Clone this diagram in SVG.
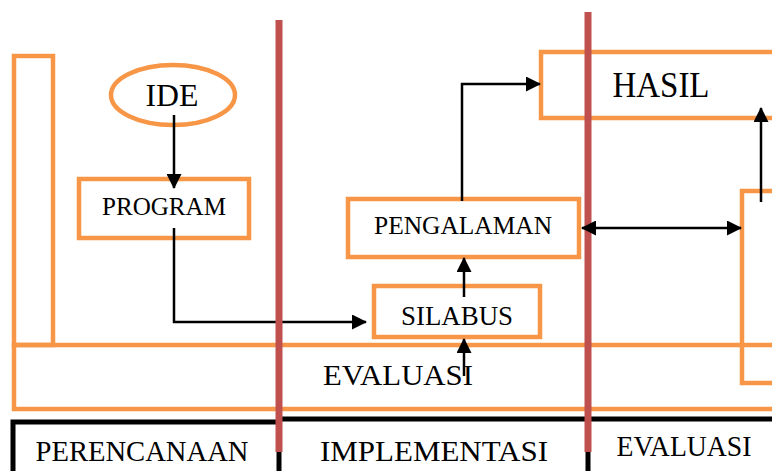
<svg xmlns="http://www.w3.org/2000/svg" width="772" height="471" viewBox="0 0 772 471">
<defs>
<style>
.o{fill:none;stroke:#F79646;stroke-width:4.5}
.r{stroke:#C0504D;stroke-width:7}
.c{fill:none;stroke:#000;stroke-width:2.5}
.t{font-family:"Liberation Serif","Times New Roman",serif;fill:#000;text-anchor:middle}
</style>
<marker id="ah" markerUnits="userSpaceOnUse" markerWidth="15" markerHeight="15" refX="14" refY="7.5" orient="auto-start-reverse" viewBox="0 0 15 15">
<path d="M0,0 L15,7.5 L0,15 Z" fill="#000"/>
</marker>
</defs>
<rect width="772" height="471" fill="#fff"/>
<g id="side-left"><rect class="o" x="14" y="56" width="39" height="289"/></g>
<g id="evaluasi-band"><rect class="o" x="14" y="345" width="780" height="64"/>
<text class="t" x="398" y="385" font-size="30" textLength="150" lengthAdjust="spacingAndGlyphs">EVALUASI</text></g>
<g id="side-right"><rect class="o" x="742" y="191" width="60" height="192"/></g>
<g id="ide"><ellipse class="o" cx="173" cy="95" rx="62" ry="30"/>
<text class="t" x="172" y="106" font-size="32" textLength="53" lengthAdjust="spacingAndGlyphs">IDE</text></g>
<g id="program"><rect class="o" x="79" y="179" width="170" height="59"/>
<text class="t" x="164" y="215" font-size="25" textLength="124" lengthAdjust="spacingAndGlyphs">PROGRAM</text></g>
<g id="pengalaman"><rect class="o" x="348" y="199" width="231" height="58"/>
<text class="t" x="463" y="234" font-size="25" textLength="178" lengthAdjust="spacingAndGlyphs">PENGALAMAN</text></g>
<g id="silabus"><rect class="o" x="374" y="286" width="166" height="51"/>
<text class="t" x="457" y="325" font-size="28" textLength="112" lengthAdjust="spacingAndGlyphs">SILABUS</text></g>
<g id="hasil"><rect class="o" x="541" y="52" width="260" height="66"/>
<text class="t" x="661" y="97" font-size="35" textLength="97" lengthAdjust="spacingAndGlyphs">HASIL</text></g>
<g id="phase-bar">
<path d="M13,471 V422 H279 M279,419 H772" fill="none" stroke="#000" stroke-width="5"/>
<path d="M279,450 V471 M588,450 V471" stroke="#000" stroke-width="5"/>
<text class="t" x="142" y="461" font-size="30" textLength="213" lengthAdjust="spacingAndGlyphs">PERENCANAAN</text>
<text class="t" x="434" y="461" font-size="30" textLength="228" lengthAdjust="spacingAndGlyphs">IMPLEMENTASI</text>
<text class="t" x="684" y="456" font-size="30" textLength="135" lengthAdjust="spacingAndGlyphs">EVALUASI</text>
</g>
<g id="connectors">
<path class="c" d="M174,115 V188" marker-end="url(#ah)"/>
<path class="c" d="M174,228 V322 H366" marker-end="url(#ah)"/>
<path class="c" d="M464,297 V258" marker-end="url(#ah)"/>
<path class="c" d="M464,376 V339" marker-end="url(#ah)"/>
<path class="c" d="M462,201 V84 H540" marker-end="url(#ah)"/>
<path class="c" d="M761,202 V108" marker-end="url(#ah)"/>
</g>
<g id="dividers">
<line class="r" x1="279" y1="20" x2="279" y2="452"/>
<line class="r" x1="588" y1="12" x2="588" y2="452"/>
</g>
<g id="connectors-top">
<path class="c" d="M582,228 H741" marker-start="url(#ah)" marker-end="url(#ah)"/>
</g>
</svg>
